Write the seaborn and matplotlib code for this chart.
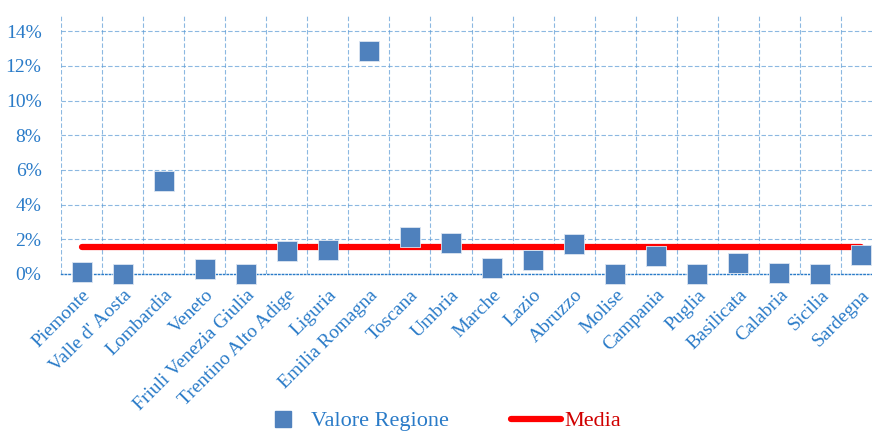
import pandas as pd
import matplotlib.pyplot as plt
import seaborn as sns
from matplotlib.lines import Line2D
from matplotlib.ticker import FixedLocator, PercentFormatter

regioni = ["Piemonte", "Valle d' Aosta", "Lombardia", "Veneto", "Friuli Venezia Giulia",
           "Trentino Alto Adige", "Liguria", "Emilia Romagna", "Toscana", "Umbria",
           "Marche", "Lazio", "Abruzzo", "Molise", "Campania", "Puglia", "Basilicata",
           "Calabria", "Sicilia", "Sardegna"]
valore = [0.10, 0.0, 5.37, 0.27, 0.0, 1.32, 1.40, 12.85, 2.11, 1.77,
          0.33, 0.79, 1.71, 0.02, 1.02, 0.0, 0.62, 0.04, 0.02, 1.09]
media = 1.54

BLUE_TXT = "#2A7BC8"
MARK = "#4F81BD"
RED = "#FF0000"

sns.set_style("white")
plt.rcParams["font.family"] = ["Liberation Serif", "DejaVu Serif"]

df = pd.DataFrame({"Regione": regioni, "Valore": valore,
                   "x": range(len(regioni)), "Media": [media] * len(regioni)})

fig = plt.figure(figsize=(8.72, 4.32), dpi=100)
ax = fig.add_axes([61 / 872, 1 - 274 / 432, 821 / 872, 260 / 432])

sns.lineplot(data=df, x="x", y="Media", ax=ax, color=RED, linewidth=4.5,
             solid_capstyle="round", zorder=3, legend=False)
sns.scatterplot(data=df, x="x", y="Valore", ax=ax, marker="s", s=200,
                color=MARK, edgecolor="#DCE6F2", linewidth=0.6, zorder=4,
                clip_on=False, legend=False)

ax.set_xlim(-0.5, len(regioni) - 0.5)
ax.set_ylim(0, 15)
ax.set_yticks(range(0, 15, 2))
ax.yaxis.set_major_formatter(PercentFormatter(decimals=0))
ax.set_xticks(range(len(regioni)))
ax.set_xticklabels(regioni, rotation=45, ha="right", va="top",
                   rotation_mode="anchor")
ax.xaxis.set_minor_locator(FixedLocator([i - 0.5 for i in range(len(regioni) + 1)]))
ax.tick_params(axis="both", which="both", length=0, labelsize=14,
               labelcolor=BLUE_TXT)
ax.tick_params(axis="x", pad=9)
ax.tick_params(axis="y", pad=14)

ax.grid(False)
ax.grid(True, axis="y", which="major", color="#5B9BD5", linestyle=(0, (4, 2)),
        linewidth=0.8, alpha=0.7)
ax.grid(True, axis="x", which="minor", color="#5B9BD5", linestyle=(0, (4, 2)),
        linewidth=0.8, alpha=0.7)
for side in ["top", "right", "left"]:
    ax.spines[side].set_visible(False)
ax.spines["bottom"].set_color("#2A7BC8")
ax.spines["bottom"].set_linestyle(":")
ax.spines["bottom"].set_linewidth(1.0)
ax.set_xlabel("")
ax.set_ylabel("")

handles = [
    Line2D([], [], marker="s", linestyle="none", color=MARK, markersize=11),
    Line2D([], [], color=RED, linewidth=4.5, solid_capstyle="round"),
]
leg = fig.legend(handles, ["Valore Regione", "Media"], loc="center left",
                 bbox_to_anchor=(258 / 872, 1 - 421 / 432), ncol=2, frameon=False,
                 fontsize=16, handlelength=2.25, handletextpad=0.15,
                 columnspacing=2.8, borderpad=0, borderaxespad=0)
leg.get_texts()[0].set_color(BLUE_TXT)
leg.get_texts()[1].set_color("#D00000")

fig.savefig("out.png", dpi=100)
